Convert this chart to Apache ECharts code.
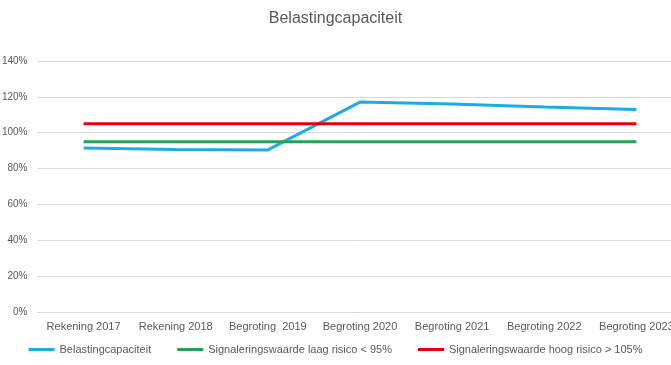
<!DOCTYPE html>
<html><head><meta charset="utf-8">
<script src="https://cdn.jsdelivr.net/npm/echarts@6/dist/echarts.min.js"></script>
<style>html,body{margin:0;padding:0;background:#fff;overflow:hidden}#c{width:671px;height:365px}</style>
</head><body><div id="c"></div>
<script>
var categories = ['Rekening 2017','Rekening 2018','Begroting  2019','Begroting 2020','Begroting 2021','Begroting 2022','Begroting 2023'];
var belasting = [91.5, 90.7, 90.4, 117.1, 116.0, 114.3, 113.0];
var laagRisico = [95, 95, 95, 95, 95, 95, 95];
var hoogRisico = [105, 105, 105, 105, 105, 105, 105];
var seriesNames = ['Belastingcapaciteit','Signaleringswaarde laag risico < 95%','Signaleringswaarde hoog risico > 105%'];
var colors = ['#1AADE4','#21A45A','#E3000F'];
var font = 'Liberation Sans, Arial, sans-serif';
var chart = echarts.init(document.getElementById('c'), null, {renderer:'canvas'});
function mk(name, data, color){
  return {name:name, type:'line', data:data, symbol:'none', smooth:false,
    lineStyle:{width:3, color:color}, itemStyle:{color:color}, animation:false};
}
chart.setOption({
  animation:false,
  title:{text:'Belastingcapaciteit', left:'center', top:6,
    textStyle:{fontFamily:font, fontSize:16, fontWeight:'normal', color:'#595959'}},
  grid:{left:37.5, width:645, top:61, bottom:53, containLabel:false, outerBoundsMode:'none'},
  legend:{bottom:5, left:'center', itemWidth:26, itemHeight:3, itemGap:26, icon:'rect',
    textStyle:{fontFamily:font, fontSize:11, color:'#595959'},
    data:seriesNames},
  xAxis:{type:'category', data:categories, boundaryGap:true,
    axisLine:{show:true, lineStyle:{color:'#D9D9D9'}}, axisTick:{show:false},
    axisLabel:{fontFamily:font, fontSize:11, color:'#595959', margin:9, interval:0}},
  yAxis:{type:'value', min:0, max:140, interval:20,
    axisLine:{show:false}, axisTick:{show:false},
    splitLine:{lineStyle:{color:'#D9D9D9'}},
    axisLabel:{fontFamily:font, fontSize:10, color:'#595959', margin:10,
      formatter:function(v){return v+'%';}}},
  series:[mk(seriesNames[0], belasting, colors[0]), mk(seriesNames[1], laagRisico, colors[1]), mk(seriesNames[2], hoogRisico, colors[2])]
});
</script></body></html>
